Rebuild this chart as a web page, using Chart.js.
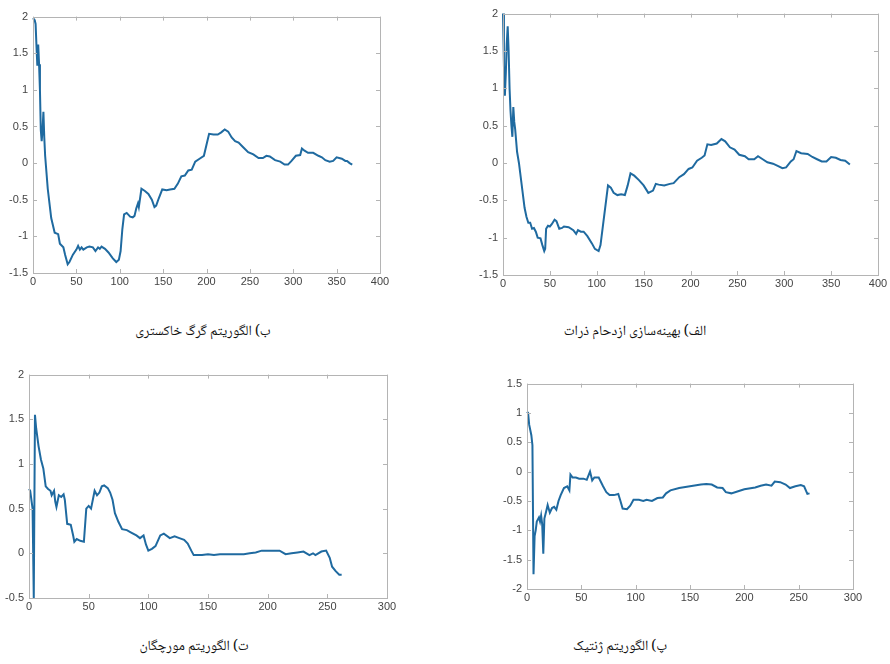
<!DOCTYPE html>
<html>
<head>
<meta charset="utf-8">
<script src="https://cdn.jsdelivr.net/npm/chart.js@4/dist/chart.umd.min.js"></script>
<style>
  body { margin: 0; background: #fff; width: 890px; height: 664px; position: relative; overflow: hidden; }
  canvas { position: absolute; }
  .cap { position: absolute; direction: rtl; white-space: nowrap; font-family: "Noto Naskh Arabic", "DejaVu Sans", sans-serif; font-size: 14px; color: #111; transform: translateX(-50%); }
</style>
</head>
<body>
<canvas id="gwo" style="left:0px;top:5px" width="400" height="288"></canvas>
<canvas id="pso" style="left:463px;top:2px" width="427" height="293"></canvas>
<canvas id="aco" style="left:0px;top:363px" width="402" height="255"></canvas>
<canvas id="ga" style="left:487px;top:372px" width="381" height="237"></canvas>

<div class="cap" style="left:203px;top:320px">ب) الگوریتم گرگ خاکستری</div>
<div class="cap" style="left:635px;top:320px">الف) بهینه&zwnj;سازی ازدحام ذرات</div>
<div class="cap" style="left:194px;top:635px">ت) الگوریتم مورچگان</div>
<div class="cap" style="left:620px;top:635px">پ) الگوریتم ژنتیک</div>

<script>
// ب) grey wolf
const gwoX = [0,2,3,4,5,6,7,8,9,10,11,12,13,14,15,17,21,25,29,31,35,37,40,42,46,50,52,54,56,58,62,65,69,72,75,77,79,83,87,92,96,99,101,103,105,108,112,115,117,119,121,122,125,129,133,137,140,142,145,149,154,158,163,167,171,175,179,183,187,192,197,200,203,208,213,217,221,225,229,233,237,242,248,254,260,265,269,273,279,285,290,294,298,303,308,310,313,317,323,329,333,337,342,346,350,356,360,362,365,368];
const gwoY = [1.98,1.95,1.9,1.6,1.33,1.62,1.35,1.0,0.45,0.3,0.45,0.7,0.35,0.1,-0.05,-0.35,-0.75,-0.95,-0.97,-1.1,-1.15,-1.25,-1.38,-1.35,-1.25,-1.18,-1.13,-1.18,-1.15,-1.18,-1.15,-1.14,-1.15,-1.2,-1.15,-1.17,-1.14,-1.17,-1.22,-1.3,-1.35,-1.32,-1.2,-0.9,-0.7,-0.68,-0.73,-0.74,-0.72,-0.62,-0.55,-0.6,-0.35,-0.38,-0.42,-0.5,-0.6,-0.58,-0.48,-0.36,-0.37,-0.36,-0.35,-0.28,-0.18,-0.17,-0.1,-0.09,0.02,0.06,0.1,0.25,0.4,0.39,0.39,0.42,0.46,0.43,0.35,0.3,0.28,0.22,0.15,0.12,0.07,0.07,0.1,0.09,0.04,0.02,-0.02,-0.02,0.03,0.1,0.11,0.2,0.17,0.14,0.14,0.1,0.08,0.04,0.02,0.03,0.08,0.06,0.03,0.03,0.0,-0.02];

// الف) particle swarm
const psoX = [0,1,2,3,4,5,6,7,8,9,10,11,12,13,15,17,19,21,23,25,27,29,31,33,35,37,40,42,44,45,46,48,50,52,55,57,60,63,65,70,75,78,80,83,86,90,95,98,102,104,107,110,112,115,118,122,126,130,133,136,140,145,150,155,160,163,166,172,178,182,188,193,198,202,207,212,215,218,222,228,233,237,242,247,252,258,262,268,272,277,282,288,293,298,302,307,310,313,318,325,330,335,340,345,350,355,360,365,370];
const psoY = [2.0,1.3,0.9,1.2,1.6,1.83,1.5,1.0,0.7,0.5,0.35,0.75,0.55,0.45,0.15,0.0,-0.2,-0.4,-0.6,-0.72,-0.8,-0.8,-0.88,-0.87,-0.92,-1.0,-1.01,-1.1,-1.18,-1.15,-0.88,-0.84,-0.85,-0.82,-0.76,-0.78,-0.88,-0.87,-0.85,-0.86,-0.9,-0.95,-0.9,-0.92,-0.92,-0.98,-1.08,-1.15,-1.18,-1.1,-0.8,-0.5,-0.3,-0.33,-0.4,-0.43,-0.42,-0.43,-0.3,-0.14,-0.17,-0.23,-0.3,-0.4,-0.37,-0.28,-0.29,-0.3,-0.28,-0.27,-0.19,-0.15,-0.08,-0.06,0.03,0.07,0.1,0.25,0.24,0.26,0.32,0.29,0.21,0.18,0.11,0.09,0.05,0.05,0.09,0.05,0.01,-0.01,-0.04,-0.07,-0.06,0.02,0.05,0.16,0.13,0.12,0.08,0.05,0.02,0.02,0.08,0.07,0.04,0.03,-0.02];

// ت) ant colony
const acoX = [0,1,3,4,5,6,8,10,12,14,16,18,19,21,22,23,25,27,29,30,32,35,37,38,40,43,46,48,50,52,55,57,59,61,63,66,68,70,72,75,78,82,86,90,93,96,98,100,103,106,110,113,118,122,126,130,133,136,138,145,150,155,160,165,170,175,180,185,190,195,200,205,210,215,220,225,230,235,238,240,245,249,252,254,257,260,262];
const acoY = [0.72,0.7,0.5,-0.5,1.55,1.4,1.2,1.05,0.95,0.75,0.72,0.7,0.65,0.7,0.58,0.52,0.65,0.63,0.66,0.6,0.33,0.32,0.2,0.13,0.16,0.14,0.13,0.5,0.53,0.5,0.7,0.65,0.68,0.75,0.76,0.73,0.68,0.6,0.45,0.35,0.27,0.26,0.23,0.2,0.17,0.2,0.1,0.03,0.05,0.08,0.2,0.22,0.17,0.19,0.17,0.15,0.11,0.03,-0.02,-0.02,-0.01,-0.02,-0.01,-0.01,-0.01,-0.01,-0.01,0.0,0.01,0.03,0.03,0.03,0.03,-0.01,0.0,0.01,0.02,-0.02,0.0,-0.02,0.02,0.03,-0.05,-0.15,-0.2,-0.24,-0.24];

// پ) genetic
const gaX = [0,1,2,4,5,6,7,8,9,11,12,13,14,15,16,18,19,21,23,25,27,29,31,34,37,39,40,42,45,48,52,55,58,60,62,66,70,73,76,80,84,86,88,92,95,98,103,107,110,115,120,125,128,132,140,150,160,165,170,175,180,183,188,195,200,210,215,220,225,228,233,238,242,247,252,255,258,260];
const gaY = [1.02,1.0,0.8,0.62,0.45,-1.75,-1.1,-1.0,-0.85,-0.78,-0.85,-0.75,-0.9,-1.4,-0.8,-0.65,-0.57,-0.7,-0.62,-0.6,-0.65,-0.5,-0.4,-0.28,-0.25,-0.32,-0.05,-0.1,-0.1,-0.12,-0.12,-0.14,0.0,-0.15,-0.1,-0.1,-0.25,-0.35,-0.4,-0.4,-0.38,-0.5,-0.63,-0.64,-0.58,-0.48,-0.48,-0.5,-0.48,-0.5,-0.45,-0.44,-0.37,-0.32,-0.28,-0.25,-0.22,-0.21,-0.22,-0.27,-0.28,-0.35,-0.37,-0.33,-0.3,-0.27,-0.24,-0.22,-0.24,-0.17,-0.18,-0.22,-0.28,-0.25,-0.23,-0.25,-0.38,-0.37];

const lineColor = '#1f6aa0';
const axisColor = '#b4b4b4';

// matlab style box with inward ticks
const boxPlugin = {
  id: 'box',
  afterDraw(chart) {
    const { ctx, chartArea: a, scales } = chart;
    ctx.save();
    ctx.strokeStyle = axisColor;
    ctx.lineWidth = 1;
    ctx.strokeRect(Math.round(a.left) + 0.5, Math.round(a.top) + 0.5, Math.round(a.right - a.left), Math.round(a.bottom - a.top));
    ctx.beginPath();
    scales.x.ticks.forEach((t) => {
      const px = Math.round(scales.x.getPixelForValue(t.value)) + 0.5;
      ctx.moveTo(px, a.bottom); ctx.lineTo(px, a.bottom - 4);
      ctx.moveTo(px, a.top); ctx.lineTo(px, a.top + 4);
    });
    scales.y.ticks.forEach((t) => {
      const py = Math.round(scales.y.getPixelForValue(t.value)) + 0.5;
      ctx.moveTo(a.left, py); ctx.lineTo(a.left + 4, py);
      ctx.moveTo(a.right, py); ctx.lineTo(a.right - 4, py);
    });
    ctx.stroke();
    ctx.restore();
  }
};

function makeChart(id, xs, ys, xMax, yMin, yMax, yWidth, padRight) {
  const pts = xs.map((x, i) => ({ x: x, y: ys[i] }));
  const tickFont = { family: 'Liberation Sans, Arial, sans-serif', size: 11 };
  new Chart(document.getElementById(id).getContext('2d'), {
    type: 'line',
    data: {
      datasets: [{
        data: pts,
        borderColor: lineColor,
        borderWidth: 2,
        pointRadius: 0,
        tension: 0,
        fill: false,
        clip: false,
      }],
    },
    options: {
      responsive: false,
      animation: false,
      layout: { padding: { top: 10, right: padRight, left: 0, bottom: 0 } },
      plugins: { legend: { display: false }, tooltip: { enabled: false } },
      scales: {
        x: {
          type: 'linear', min: 0, max: xMax,
          ticks: { stepSize: 50, color: '#444', font: tickFont, padding: 2, maxRotation: 0 },
          grid: { display: false, drawTicks: false },
          border: { display: false },
          afterFit: (s) => { s.height = 20; },
        },
        y: {
          min: yMin, max: yMax,
          ticks: { stepSize: 0.5, color: '#444', font: tickFont, padding: 5, callback: (v) => String(v) },
          grid: { display: false, drawTicks: false },
          border: { display: false },
          afterFit: (s) => { s.width = yWidth; },
        },
      },
    },
    plugins: [boxPlugin],
  });
}

makeChart('gwo', gwoX, gwoY, 400, -1.5, 2, 33, 20);
makeChart('pso', psoX, psoY, 400, -1.5, 2, 40, 12);
makeChart('aco', acoX, acoY, 300, -0.5, 2, 29, 15);
makeChart('ga', gaX, gaY, 300, -2, 1.5, 40, 15);
</script>
</body>
</html>
